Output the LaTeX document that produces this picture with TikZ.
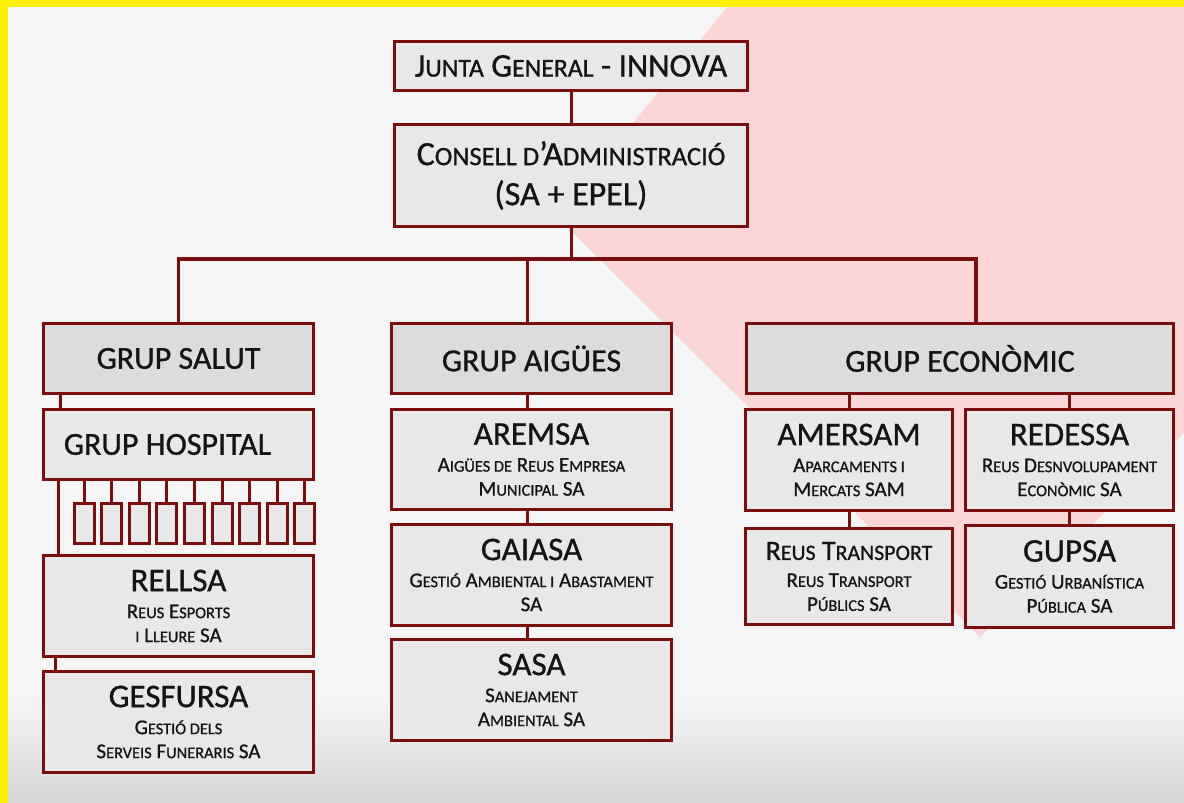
\documentclass[tikz,border=0pt]{standalone}
\usepackage{fontspec}
\setmainfont{Carlito}[FakeBold=0.9]
\usepackage{graphicx}
\definecolor{bgc}{RGB}{245,245,245}
\definecolor{pinkc}{RGB}{252,213,215}
\definecolor{boxc}{RGB}{232,232,232}
\definecolor{grpc}{RGB}{220,220,220}
\definecolor{brd}{RGB}{122,14,14}
\definecolor{yel}{RGB}{255,240,0}
\definecolor{txt}{RGB}{20,20,20}
\newcommand\smc[1]{\scalebox{0.78}{#1}}
\newcommand\ttlA[1]{{\fontsize{33}{33}\selectfont #1}}
\begin{document}
\begin{tikzpicture}[x=1pt,y=-1pt,
  box/.style={draw=brd, line width=3pt, fill=boxc, inner sep=0pt, align=center, text=txt,
    minimum width=270pt, font=\fontsize{21}{24}\selectfont},
  grp/.style={box, fill=grpc, minimum height=70pt, font=\fontsize{32}{32}\selectfont},
  conn/.style={draw=brd, line width=3pt},
  busline/.style={draw=brd, line width=3.5pt, line join=miter}]
% background
\useasboundingbox (0,0) rectangle (1184,803);
\fill[bgc] (0,0) rectangle (1184,803);
\fill[pinkc] (733,0) -- (557,217) -- (980,637) -- (1184,433) -- (1184,0) -- cycle;
\shade[top color=bgc, bottom color=black!16] (0,700) rectangle (1184,803);
\fill[yel] (0,0) rectangle (8,803);
\fill[yel] (0,0) rectangle (1184,7);
% top boxes
\node[box, minimum width=353pt, minimum height=49pt, font=\fontsize{33}{33}\selectfont] (junta) at (571,66) {J\smc{UNTA} G\smc{ENERAL} - INNOVA};
\node[box, minimum width=353pt, minimum height=102pt, font=\fontsize{34}{40}\selectfont] (consell) at (571,175.5) {C\smc{ONSELL D}’A\smc{DMINISTRACIÓ}\\(SA + EPEL)};
% groups
\node[grp, minimum width=270pt] (salut) at (178.5,358.5) {GRUP SALUT};
\node[grp, minimum width=280pt] (aigues) at (531.5,358.5) {GRUP AIGÜES};
\node[grp, minimum width=427pt] (econ) at (960,358.5) {GRUP ECONÒMIC};
% salut column
\node[box, minimum height=70pt, font=\fontsize{32}{32}\selectfont] (hospital) at (178.5,444.5) {\hspace*{-22pt}GRUP HOSPITAL};
\node[box, minimum height=101pt] (rellsa) at (178.5,606) {\ttlA{RELLSA}\\[3pt]R\smc{EUS} E\smc{SPORTS}\\\smc{I} L\smc{LEURE} SA};
\node[box, minimum height=101pt] (gesfursa) at (178.5,722) {\ttlA{GESFURSA}\\[3pt]G\smc{ESTIÓ DELS}\\S\smc{ERVEIS} F\smc{UNERARIS} SA};
% aigues column
\node[box, minimum width=280pt, minimum height=100pt] (aremsa) at (531.5,459.5) {\ttlA{AREMSA}\\[3pt]A\smc{IGÜES DE} R\smc{EUS} E\smc{MPRESA}\\M\smc{UNICIPAL} SA};
\node[box, minimum width=280pt, minimum height=101pt] (gaiasa) at (531.5,575) {\ttlA{GAIASA}\\[3pt]G\smc{ESTIÓ} A\smc{MBIENTAL I} A\smc{BASTAMENT}\\SA};
\node[box, minimum width=280pt, minimum height=101pt] (sasa) at (531.5,690) {\ttlA{SASA}\\[3pt]S\smc{ANEJAMENT}\\A\smc{MBIENTAL} SA};
% econ columns
\node[box, minimum width=207pt, minimum height=101pt] (amersam) at (849,460) {\ttlA{AMERSAM}\\[3pt]A\smc{PARCAMENTS I}\\M\smc{ERCATS} SAM};
\node[box, minimum width=208pt, minimum height=101pt] (redessa) at (1069.5,460) {\ttlA{REDESSA}\\[3pt]R\smc{EUS} D\smc{ESNVOLUPAMENT}\\E\smc{CONÒMIC} SA};
\node[box, minimum width=207pt, minimum height=96pt] (transport) at (849,576.5) {{\fontsize{28}{28}\selectfont R\smc{EUS} T\smc{RANSPORT}}\\[3pt]R\smc{EUS} T\smc{RANSPORT}\\P\smc{ÚBLICS} SA};
\node[box, minimum width=208pt, minimum height=102pt] (gupsa) at (1069.5,576.5) {\ttlA{GUPSA}\\[3pt]G\smc{ESTIÓ} U\smc{RBANÍSTICA}\\P\smc{ÚBLICA} SA};
% connectors
\coordinate (bus) at (571,259);
\coordinate (ga) at (527,259);
\coordinate (ge) at (976,259);
\draw[conn] (junta.south) -- (consell.north);
\draw[conn] (consell.south) -- (bus);
\draw[busline] (salut.north) -- (salut.north |- bus) -- (ge) -- (ge |- econ.north);
\draw[conn] (ga) -- (ga |- aigues.north);
\draw[conn] ([xshift=18pt]salut.south west) -- ([xshift=18pt]hospital.north west);
\draw[conn] ([xshift=16pt]hospital.south west) -- ([xshift=16pt]rellsa.north west);
\draw[conn] ([xshift=13pt]rellsa.south west) -- ([xshift=13pt]gesfursa.north west);
\foreach \i in {0,...,8}{
  \node[box, minimum width=20pt, minimum height=40pt] (s\i) at (84+27.6*\i,523) {};
  \draw[conn] (s\i.north |- hospital.south) -- (s\i.north);
}
\draw[conn] ([xshift=-4pt]aigues.south) -- ([xshift=-4pt]aremsa.north);
\draw[conn] ([xshift=-4pt]aremsa.south) -- ([xshift=-4pt]gaiasa.north);
\draw[conn] ([xshift=-4pt]gaiasa.south) -- ([xshift=-4pt]sasa.north);
\draw[conn] (amersam.north |- econ.south) -- (amersam.north);
\draw[conn] (redessa.north |- econ.south) -- (redessa.north);
\draw[conn] (amersam.south) -- (transport.north);
\draw[conn] (redessa.south) -- (gupsa.north);
\end{tikzpicture}
\end{document}
